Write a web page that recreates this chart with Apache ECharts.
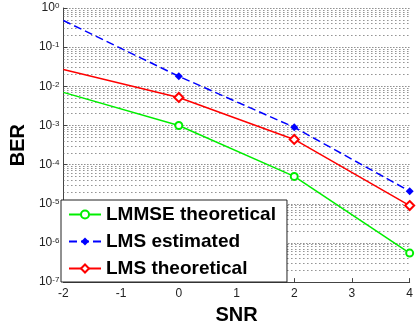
<!DOCTYPE html>
<html>
<head>
<meta charset="utf-8">
<script src="https://cdn.jsdelivr.net/npm/echarts@6/dist/echarts.min.js"></script>
<style>
  html, body { margin: 0; padding: 0; background: #fff; }
  #chart { width: 416px; height: 330px; }
</style>
</head>
<body>
<div id="chart"></div>
<script>
// data
const snr = [-2, 0, 2, 4];
const lmmseTheoretical = [7e-3, 1e-3, 5e-5, 5.5e-7];
const lmsEstimated = [0.48, 1.8e-2, 9e-4, 2.1e-5];
const lmsTheoretical = [2.7e-2, 5.2e-3, 4.4e-4, 9e-6];
const seriesNames = ['LMMSE theoretical', 'LMS estimated', 'LMS theoretical'];

const FONT = 'Liberation Sans, Arial, sans-serif';
const X_MIN = -2, X_MAX = 4;

// minor log grid (2..9 x 10^k), drawn as full-width segments
const minorLines = [];
for (let k = -7; k < 0; k++) {
  for (let m = 2; m <= 9; m++) {
    const v = m * Math.pow(10, k);
    minorLines.push([{ coord: [X_MIN, v] }, { coord: [X_MAX, v] }]);
  }
}

// first point sits on the axis edge, no marker drawn there
const toPoints = (vals) => snr.map((x, i) => {
  const item = { value: [x, vals[i]] };
  if (i === 0) item.symbol = 'none';
  return item;
});

const chart = echarts.init(document.getElementById('chart'));

const option = {
  animation: false,
  textStyle: { fontFamily: FONT },
  grid: { left: 54, right: 2, top: 8, bottom: 45 },
  legend: {
    orient: 'vertical',
    left: 61,
    top: 200,
    padding: [5, 11, 4, 7],
    itemGap: 8,
    itemWidth: 32,
    itemHeight: 10,
    backgroundColor: '#fff',
    borderColor: '#222',
    borderWidth: 1,
    textStyle: { fontSize: 19, fontWeight: 'bold', color: '#000', fontFamily: FONT },
    data: seriesNames
  },
  xAxis: {
    type: 'value',
    min: X_MIN,
    max: X_MAX,
    interval: 1,
    name: 'SNR',
    nameLocation: 'middle',
    nameGap: 19,
    nameTextStyle: { fontSize: 20, fontWeight: 'bold', color: '#000', fontFamily: FONT },
    axisLine: { onZero: false, lineStyle: { color: '#444' } },
    axisTick: { inside: true, length: 4, lineStyle: { color: '#444' } },
    axisLabel: { fontSize: 12, color: '#222', margin: 6 },
    splitLine: { show: false }
  },
  yAxis: {
    type: 'log',
    logBase: 10,
    min: 1e-7,
    max: 1,
    splitNumber: 7,
    name: 'BER',
    nameLocation: 'middle',
    nameGap: 26,
    nameTextStyle: { fontSize: 20, fontWeight: 'bold', color: '#000', fontFamily: FONT },
    axisLine: { show: true, onZero: false, lineStyle: { color: '#444' } },
    axisTick: { inside: true, length: 4, lineStyle: { color: '#444' } },
    axisLabel: {
      margin: 4,
      formatter: (v) => '{b|10}{s|' + Math.round(Math.log10(v)) + '}',
      rich: {
        b: { fontSize: 12, color: '#222', verticalAlign: 'bottom' },
        s: { fontSize: 8, color: '#222', verticalAlign: 'top' }
      }
    },
    splitLine: { show: true, lineStyle: { color: '#555', type: [1, 2], width: 1 } }
  },
  series: [
    {
      name: seriesNames[0],
      type: 'line',
      data: toPoints(lmmseTheoretical),
      symbol: 'emptyCircle',
      symbolSize: 7,
      color: '#00ee00',
      lineStyle: { width: 1.5 },
      itemStyle: { borderWidth: 1.5 },
      z: 3,
      markLine: {
        silent: true,
        symbol: 'none',
        label: { show: false },
        z: 1,
        lineStyle: { color: '#5a5a5a', type: [1, 3], width: 1 },
        data: minorLines
      }
    },
    {
      name: seriesNames[1],
      type: 'line',
      data: toPoints(lmsEstimated),
      symbol: 'diamond',
      symbolSize: 8,
      color: '#0000ff',
      lineStyle: { width: 1.5, type: [8, 4] },
      z: 3
    },
    {
      name: seriesNames[2],
      type: 'line',
      data: toPoints(lmsTheoretical),
      symbol: 'emptyDiamond',
      symbolSize: 9,
      color: '#ff0000',
      lineStyle: { width: 1.5 },
      itemStyle: { borderWidth: 1.5 },
      z: 3
    }
  ]
};

chart.setOption(option);
</script>
</body>
</html>
